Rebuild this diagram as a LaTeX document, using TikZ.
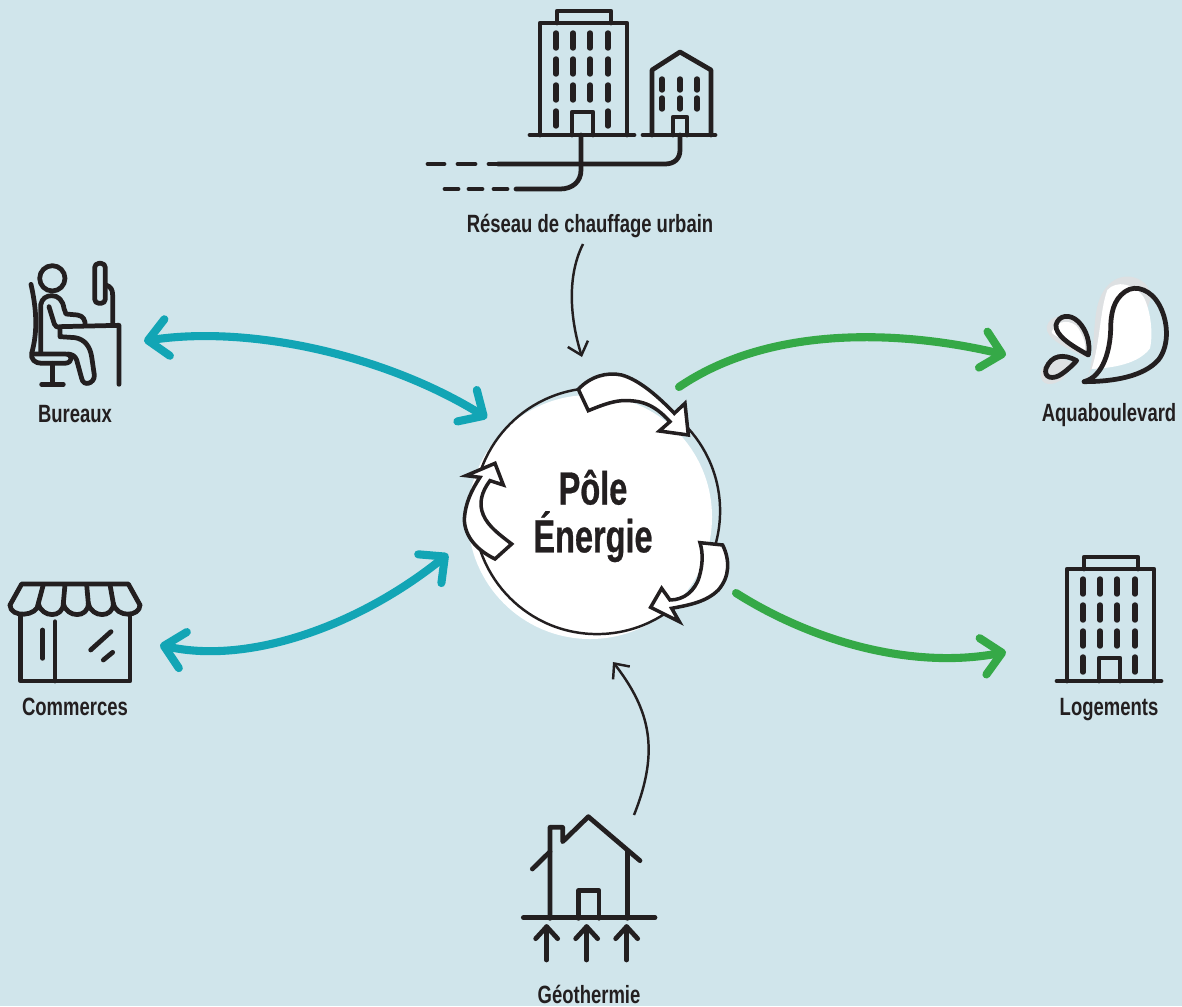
\documentclass[tikz,border=0pt]{standalone}
\usepackage{fontspec}
\setmainfont[FakeStretch=0.74]{Liberation Sans}
\newfontfamily\polefont[FakeStretch=0.7, BoldFeatures={FakeStretch=0.7, FakeBold=0.6}]{Liberation Sans}
\usetikzlibrary{arrows.meta}
\definecolor{bgblue}{HTML}{D0E5EB}
\definecolor{ink}{HTML}{231F20}
\definecolor{tealflow}{HTML}{12A5B5}
\definecolor{greenflow}{HTML}{35A947}
\definecolor{splash}{HTML}{DDE0E2}
\tikzset{
    icon/.style={draw=ink, line width=1.35pt, line cap=round, line join=round},
    wnd/.style={draw=ink, line width=1.55pt, line cap=round},
    place/.style={font=\bfseries\fontsize{7.1}{8.5}\selectfont, text=ink, inner sep=0pt},
    flow/.style={line width=2.3pt, line cap=round, {Straight Barb[round,length=5.5pt,width=10.5pt]}-{Straight Barb[round,length=5.5pt,width=10.5pt]}},
    outflow/.style={line width=2.3pt, line cap=round, -{Straight Barb[round,length=5.5pt,width=10.5pt]}},
    feed/.style={draw=ink, line width=0.7pt, -{Straight Barb[length=3.4pt,width=6pt]}},
    cyclearrow/.style={draw=ink, fill=white, line width=1pt, line join=miter},
    tower/.pic={
        \draw[icon] (530,135) -- (634,135);
        \draw[icon] (540,135) -- (540,23) -- (627,23) -- (627,135);
        \draw[icon] (557,23) -- (557,11) -- (611,11) -- (611,23);
        \draw[icon] (572,135) -- (572,112) -- (593,112) -- (593,135);
        \foreach \wx in {556,573,590,608}
            \foreach \wy in {33,59,85}
                \draw[wnd] (\wx,\wy) -- ++(0,15);
        \foreach \wx in {556,608}
            \draw[wnd] (\wx,111) -- ++(0,15);
    }
}
\begin{document}
\begin{tikzpicture}[x=0.01cm, y=-0.01cm]
    \fill[bgblue] (0,0) rectangle (1182,1006);
    \useasboundingbox (0,0) rectangle (1182,1006);

    \fill[white] (590,517) circle (122);
    \node[circle, draw=ink, line width=0.7pt, minimum size=2.46cm, inner sep=0pt] (pole) at (597,511) {};
    \node[font=\polefont\bfseries\fontsize{13.2}{13.6}\selectfont, text=ink, align=center, inner sep=0pt] (poleName) at (593,516) {Pôle\\Énergie};

    % cycle arrows
    \begin{scope}[shift={(440,360)}, scale=0.3333]
        \draw[cyclearrow] (415,88) .. controls (450,50) and (500,35) .. (545,45) .. controls (600,60) and (660,115) .. (703,160) -- (735,130) -- (745,225) -- (658,213) -- (690,185) .. controls (640,130) and (600,120) .. (545,122) .. controls (510,125) and (475,140) .. (445,152) -- cycle;
        \draw[cyclearrow] (780,548) -- (848,555) .. controls (870,600) and (870,650) .. (835,690) .. controls (800,725) and (750,735) .. (695,745) -- (718,785) -- (632,742) -- (665,685) -- (690,720) .. controls (730,720) and (765,695) .. (778,650) .. controls (788,615) and (790,580) .. (780,548) -- cycle;
        \draw[cyclearrow] (215,552) -- (165,597) .. controls (110,570) and (75,530) .. (73,480) .. controls (75,430) and (95,390) .. (120,352) -- (78,347) -- (165,310) -- (190,375) -- (150,362) .. controls (125,395) and (115,430) .. (130,465) .. controls (145,500) and (180,525) .. (215,552) -- cycle;
    \end{scope}

    % labels
    \node[place] (reseau) at (590,226) {Réseau de chauffage urbain};
    \node[place] (bureaux) at (75,414) {Bureaux};
    \node[place] (commerces) at (75,707) {Commerces};
    \node[place] (aqua) at (1109,415) {Aquaboulevard};
    \node[place] (logements) at (1109,710) {Logements};
    \node[place] (geo) at (589,994) {Géothermie};

    % network
    \pic at (0,0) {tower};
    \draw[icon] (643,135) -- (715,135);
    \draw[icon] (652,135) -- (652,70) -- (680,52) -- (711,70) -- (711,135);
    \draw[icon] (673,135) -- (673,117) -- (687,117) -- (687,135);
    \foreach \wx in {662,680,697}
        \foreach \wy in {79,98}
            \draw[wnd] (\wx,\wy) -- ++(0,11);
    \draw[icon] (680,135) -- (680,150) .. controls (680,159) and (674,164) .. (665,164) -- (498,164);
    \draw[icon] (581,135) -- (581,170) .. controls (581,182) and (572,189) .. (560,189) -- (516,189);
    \foreach \dx/\dl in {428/16,458/17,489/12}
        \draw[icon] (\dx,164) -- ++(\dl,0);
    \foreach \dx in {445,469,494}
        \draw[icon] (\dx,189) -- ++(13,0);

    % offices
    \begin{scope}[shift={(0,250)}, scale=0.3333]
        \draw[icon] (157,85) circle (38);
        \draw[icon] (93,103) .. controls (108,170) and (115,240) .. (95,310) .. controls (92,328) and (105,340) .. (125,340) -- (195,340) .. controls (220,338) and (220,312) .. (195,312) -- (105,312);
        \draw[icon] (157,340) -- (157,403);
        \draw[icon] (125,403) -- (190,403);
        \draw[icon] (122,305) -- (122,165) .. controls (125,145) and (140,137) .. (155,137) .. controls (175,137) and (188,150) .. (192,175) -- (198,192) -- (232,195) .. controls (250,197) and (257,212) .. (255,226);
        \draw[icon] (147,170) -- (163,222) .. controls (165,230) and (172,232) .. (180,232) -- (180,260) -- (225,263) .. controls (255,268) and (270,290) .. (275,320) -- (283,375) .. controls (285,400) and (250,412) .. (245,385) -- (230,330) .. controls (225,318) and (218,314) .. (205,312);
        \draw[icon] (180,230) -- (357,226) -- (357,403);
        \draw[icon, rounded corners=1.2pt] (284,40) rectangle (316,160);
        \draw[icon] (318,105) .. controls (332,110) and (338,118) .. (338,135) -- (338,226);
    \end{scope}

    % shop
    \begin{scope}[shift={(0,570)}, scale=0.3333]
        \draw[icon] (30,105) -- (65,42) -- (385,42) -- (420,105);
        \draw[icon] (30,105) .. controls (30,145) and (115,140) .. (115,100) .. controls (125,145) and (190,145) .. (190,100) .. controls (200,145) and (265,145) .. (265,100) .. controls (275,145) and (340,145) .. (340,100) .. controls (350,145) and (420,140) .. (420,105);
        \foreach \ta/\tb in {130/115,195/190,260/265,330/340}
            \draw[icon] (\ta,44) -- (\tb,100);
        \draw[icon] (62,135) -- (62,333) -- (390,333) -- (390,135);
        \draw[icon] (165,155) -- (165,333);
        \draw[icon] (128,180) -- (128,265);
        \draw[icon] (272,240) -- (333,185);
        \draw[icon] (310,270) -- (338,247);
    \end{scope}

    % splash
    \begin{scope}[shift={(1020,270)}, scale=0.3333]
        \fill[splash] (185,345) .. controls (225,310) and (215,220) .. (228,130) .. controls (240,40) and (300,5) .. (350,25) .. controls (375,35) and (385,50) .. (395,75) -- (380,120) -- (300,200) -- (215,297) -- cycle;
        \fill[white] (215,297) .. controls (250,295) and (350,290) .. (390,235) .. controls (400,190) and (392,120) .. (370,80) .. controls (340,40) and (290,30) .. (262,60) .. controls (240,120) and (240,220) .. (215,297) -- cycle;
        \fill[splash] (198,262) .. controls (140,235) and (75,205) .. (80,170) .. controls (90,130) and (150,130) .. (175,155) .. controls (205,185) and (215,220) .. (198,262) -- cycle;
        \fill[white] (195,240) .. controls (150,215) and (90,195) .. (95,185) .. controls (110,145) and (160,150) .. (175,175) .. controls (190,200) and (198,220) .. (195,240) -- cycle;
        \fill[splash] (160,280) .. controls (125,255) and (70,265) .. (62,310) .. controls (60,350) and (100,350) .. (130,325) -- cycle;
        \draw[icon] (192,335) .. controls (280,335) and (370,320) .. (415,270) .. controls (450,225) and (445,150) .. (415,100) .. controls (395,65) and (350,40) .. (315,65) .. controls (280,90) and (272,130) .. (272,180) .. controls (270,240) and (250,320) .. (192,335);
        \draw[icon] (205,255) .. controls (150,225) and (105,195) .. (108,165) .. controls (115,135) and (150,130) .. (175,155) .. controls (200,180) and (212,220) .. (205,255) -- cycle;
        \draw[icon] (170,272) .. controls (130,250) and (95,255) .. (78,295) .. controls (70,325) and (100,330) .. (125,312) .. controls (145,298) and (158,285) .. (170,272) -- cycle;
    \end{scope}

    % housing
    \pic at (527,546) {tower};

    % house on the ground
    \begin{scope}[shift={(510,800)}, scale=0.3333]
        \draw[icon] (120,355) -- (120,82) -- (158,82) -- (158,125) -- (235,50) -- (390,182);
        \draw[icon] (67,207) -- (120,155);
        \draw[icon] (352,155) -- (352,355);
        \draw[icon] (205,355) -- (205,272) -- (267,272) -- (267,355);
        \draw[icon] (40,353) -- (435,353);
        \foreach \ax in {110,230,350} {
            \draw[icon] (\ax,380) -- (\ax,480);
            \draw[icon] (\ax-33,416) -- (\ax,380) -- (\ax+33,416);
        }
    \end{scope}

    % flows
    \coordinate (bureauxEnd) at (144,341);
    \coordinate (poleNW) at (487,418);
    \coordinate (commercesEnd) at (160,645);
    \coordinate (poleSW) at (448,554);
    \coordinate (poleNE) at (679,387);
    \coordinate (aquaEnd) at (1006,355);
    \coordinate (poleSE) at (736,593);
    \coordinate (logementsEnd) at (1006,652);
    \coordinate (reseauOut) at (583,244);
    \coordinate (poleTop) at (582,357);
    \coordinate (geoOut) at (634,815);
    \coordinate (poleBottom) at (613,662);

    \draw[flow, tealflow] (bureauxEnd) .. controls (250,325) and (385,355) .. (poleNW);
    \draw[flow, tealflow] (commercesEnd) .. controls (250,665) and (360,625) .. (poleSW);
    \draw[outflow, greenflow] (poleNE) .. controls (770,325) and (900,330) .. (aquaEnd);
    \draw[outflow, greenflow] (poleSE) .. controls (810,640) and (910,670) .. (logementsEnd);
    \draw[feed] (reseauOut) .. controls (565,280) and (572,325) .. (poleTop);
    \draw[feed] (geoOut) .. controls (660,750) and (650,710) .. (poleBottom);
\end{tikzpicture}
\end{document}
